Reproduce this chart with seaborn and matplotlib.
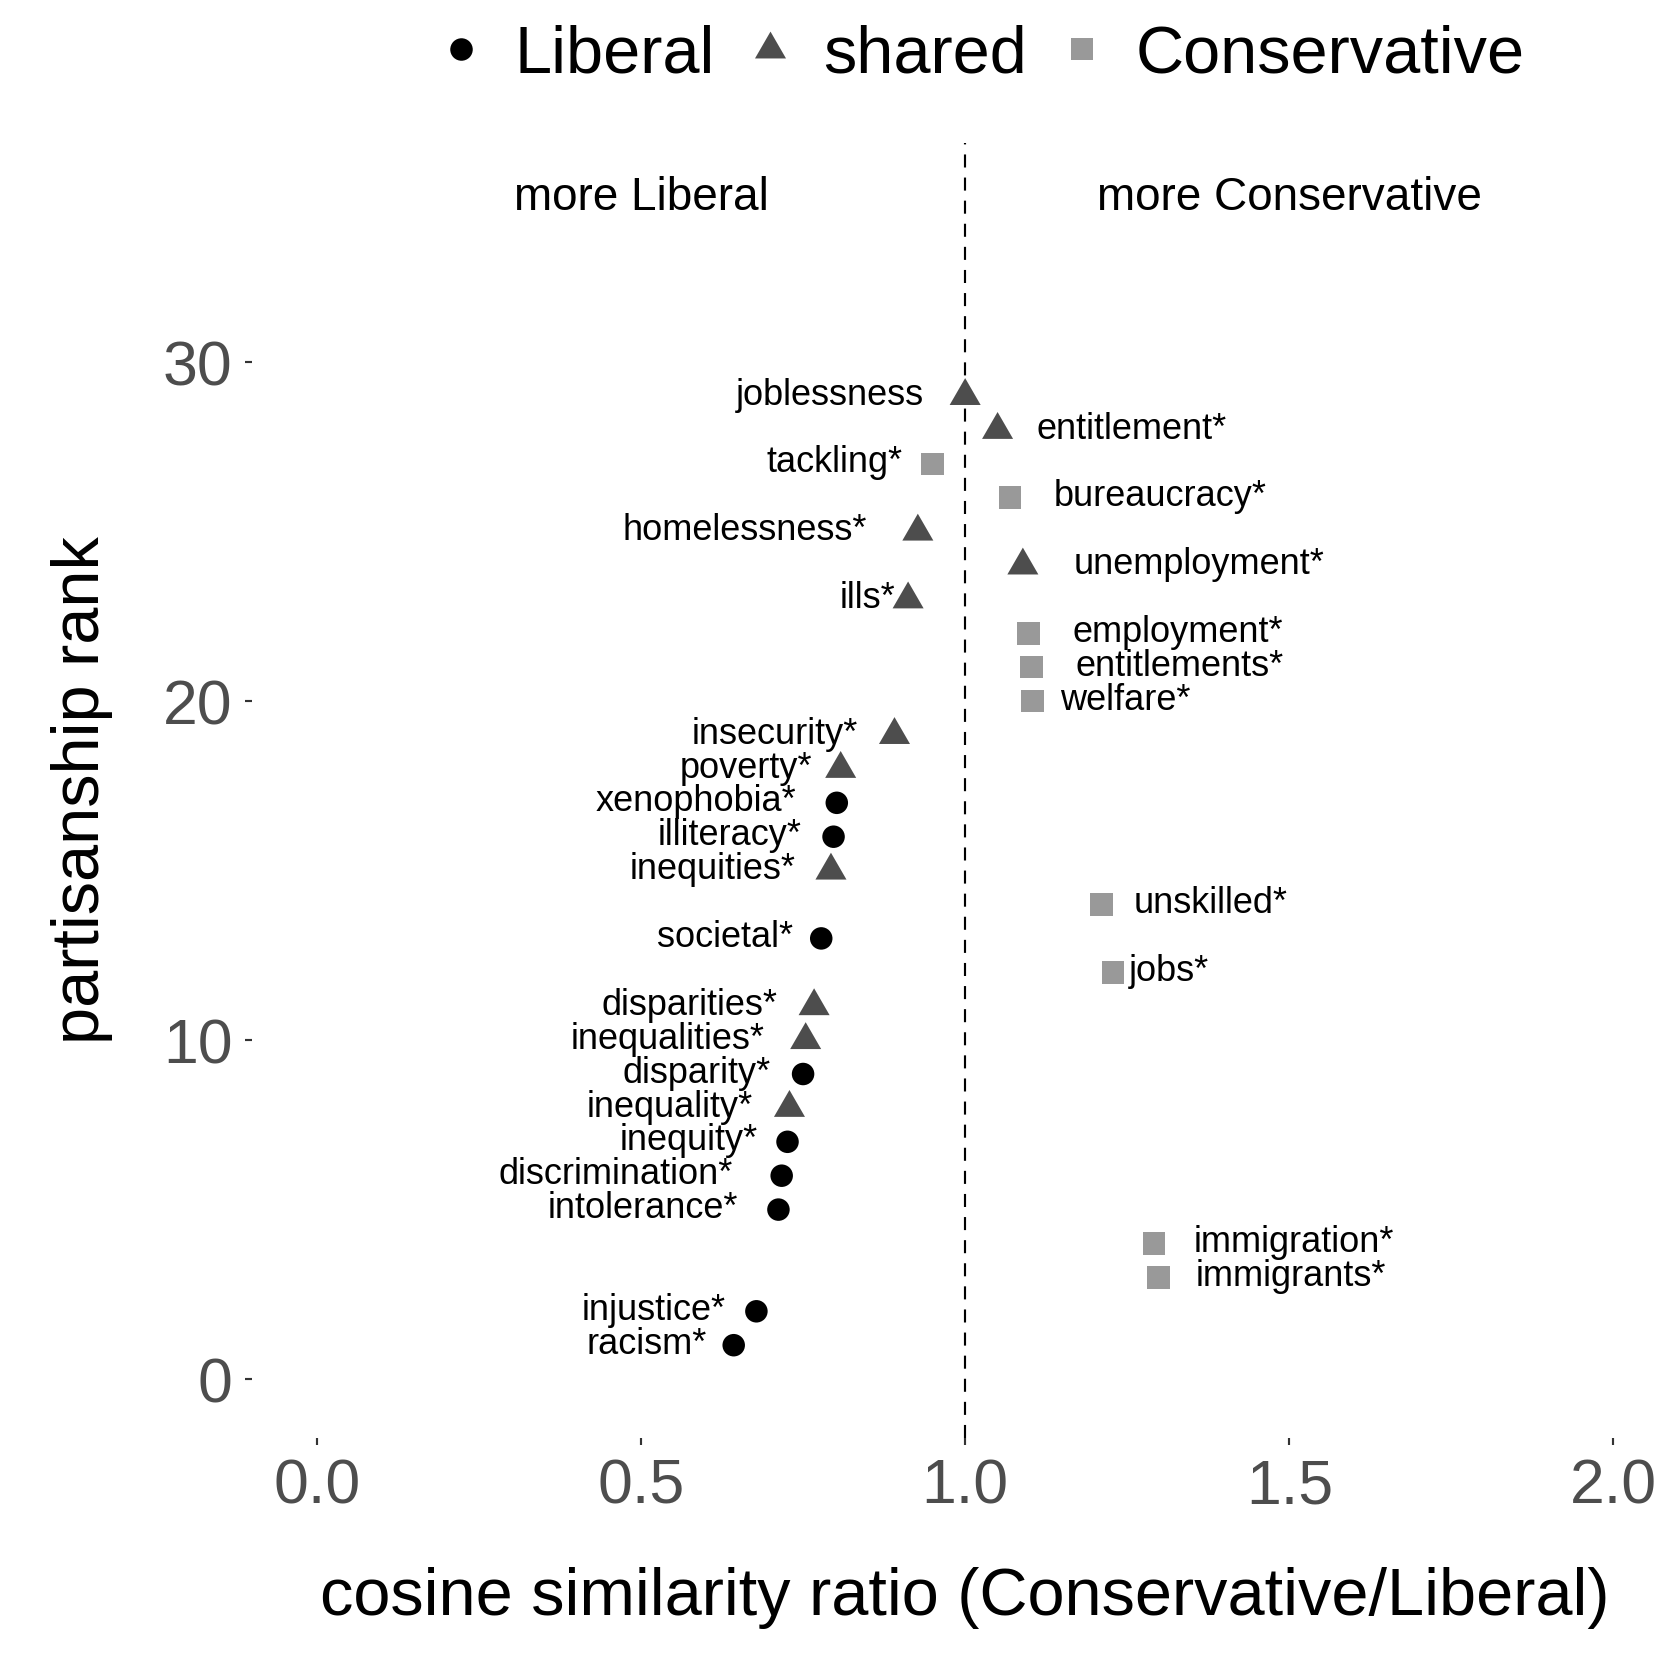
import pandas as pd
import matplotlib.pyplot as plt
import seaborn as sns
from matplotlib.path import Path
from matplotlib.lines import Line2D

# data, ordered by partisanship rank
words = ["racism*", "injustice*", "immigrants*", "immigration*", "intolerance*",
         "discrimination*", "inequity*", "inequality*", "disparity*", "inequalities*",
         "disparities*", "jobs*", "societal*", "unskilled*", "inequities*",
         "illiteracy*", "xenophobia*", "poverty*", "insecurity*", "welfare*",
         "entitlements*", "employment*", "ills*", "unemployment*", "homelessness*",
         "bureaucracy*", "tackling*", "entitlement*", "joblessness"]
rank = list(range(1, 30))
ratio = [0.643, 0.678, 1.298, 1.291, 0.712, 0.717, 0.726, 0.729, 0.750, 0.754,
         0.767, 1.228, 0.778, 1.210, 0.793, 0.797, 0.802, 0.808, 0.891, 1.104,
         1.102, 1.098, 0.912, 1.089, 0.927, 1.069, 0.950, 1.050, 1.000]
group = ["Liberal", "Liberal", "Conservative", "Conservative", "Liberal",
         "Liberal", "Liberal", "shared", "Liberal", "shared",
         "shared", "Conservative", "Liberal", "Conservative", "shared",
         "Liberal", "Liberal", "shared", "shared", "Conservative",
         "Conservative", "Conservative", "shared", "shared", "shared",
         "Conservative", "Conservative", "shared", "shared"]

# distance (points) between marker and its label, as ggrepel left them
label_gap = [9.6, 11.2, 13.5, 14.3, 14.7, 17.7, 10.8, 13.1, 11.6, 14.7,
             13.1, 5.8, 10.0, 11.6, 12.7, 11.6, 14.7, 10.4, 13.1, 10.0,
             15.8, 15.8, 4.6, 18.1, 18.5, 15.8, 10.8, 13.9, 14.7]

groups = ["Liberal", "shared", "Conservative"]
colors = {"Liberal": "#000000", "shared": "#4D4D4D", "Conservative": "#999999"}
tri = Path([(-0.5, -0.2887), (0.5, -0.2887), (0, 0.5774), (-0.5, -0.2887)])
markers = {"Liberal": "o", "shared": tri, "Conservative": "s"}
msize = {"Liberal": 8.1, "shared": 12.9, "Conservative": 8.1}

df = pd.DataFrame({"word": words, "rank": rank, "ratio": ratio, "group": group})

sns.set_style("white")
plt.rcParams["font.family"] = ["Liberation Sans", "DejaVu Sans"]
plt.rcParams["text.color"] = "black"
plt.rcParams["axes.labelcolor"] = "black"

fig = plt.figure(figsize=(8.4, 8.4), dpi=200)
ax = fig.add_axes([0.15, 0.144, 0.849, 0.771])

ax.axvline(1.0, color="black", lw=0.77, linestyle=(0, (6.1, 4.7)), zorder=1)

for g in groups:
    sub = df[df["group"] == g]
    sns.scatterplot(data=sub, x="ratio", y="rank", ax=ax, color=colors[g],
                    marker=markers[g], s=msize[g] ** 2, linewidth=0,
                    edgecolor="none", legend=False, zorder=3)

for w, x, y, gap in zip(words, ratio, rank, label_gap):
    if x > 1.0:
        ax.annotate(w, (x, y), xytext=(gap, 0.3), textcoords="offset points",
                    ha="left", va="center", fontsize=13, color="black")
    else:
        ax.annotate(w, (x, y), xytext=(-gap, 0.3), textcoords="offset points",
                    ha="right", va="center", fontsize=13, color="black")

ax.text(0.5, 34.84, "more Liberal", ha="center", va="center", fontsize=16.5)
ax.text(1.5, 34.84, "more Conservative", ha="center", va="center", fontsize=16.5)

ax.set_xlim(-0.1, 2.1)
ax.set_ylim(-1.74, 36.47)
ax.set_xticks([0.0, 0.5, 1.0, 1.5, 2.0])
ax.set_xticklabels(["0.0", "0.5", "1.0", "1.5", "2.0"])
ax.set_yticks([0, 10, 20, 30])
ax.tick_params(axis="both", direction="out", length=2.5, width=0.77,
               color="#333333", labelcolor="#4D4D4D", labelsize=22.5, pad=4.5)
ax.tick_params(axis="x", bottom=True)
ax.tick_params(axis="y", left=True)
for sp in ax.spines.values():
    sp.set_visible(False)

ax.set_xlabel("cosine similarity ratio (Conservative/Liberal)", fontsize=24,
              labelpad=18)
ax.set_ylabel("partisanship rank", fontsize=24, labelpad=18)

handles = [Line2D([], [], linestyle="none", marker=markers[g], color=colors[g],
                  markersize=msize[g], markeredgewidth=0) for g in groups]
fig.legend(handles, groups, loc="center", bbox_to_anchor=(0.581, 0.967), ncol=3,
           frameon=False, fontsize=24, handlelength=1.0, handletextpad=0.3,
           columnspacing=0.33)

fig.savefig("out.png", dpi=200, facecolor="white")
